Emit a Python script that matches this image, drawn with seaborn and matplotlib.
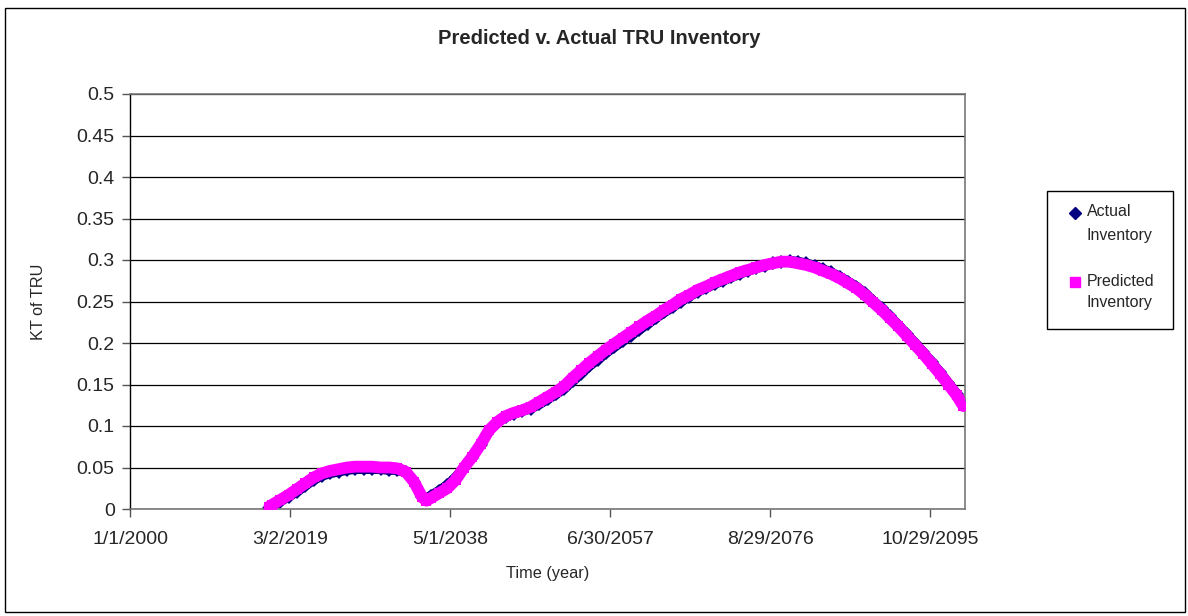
import pandas as pd
import numpy as np
import seaborn as sns
import matplotlib.pyplot as plt
from matplotlib.lines import Line2D
from matplotlib.patches import Rectangle

# values (x in fractional years)
years = [2016.7, 2017, 2018, 2019, 2020, 2021, 2022, 2023, 2024, 2025, 2026, 2027, 2028,
         2029, 2030, 2031, 2032, 2033, 2034, 2035, 2035.5, 2036, 2037, 2038, 2039, 2040,
         2041, 2042, 2043, 2044, 2045, 2046, 2047, 2048, 2049, 2050, 2051, 2052, 2053,
         2054, 2055, 2056, 2057, 2058, 2059, 2060, 2061, 2062, 2063, 2064, 2065, 2066,
         2067, 2068, 2069, 2070, 2071, 2072, 2073, 2074, 2075, 2076, 2077, 2078, 2079,
         2080, 2081, 2082, 2083, 2084, 2085, 2086, 2087, 2088, 2089, 2090, 2091, 2092,
         2093, 2094, 2095, 2096, 2097, 2098, 2099, 2099.8]
predicted = [0.003, 0.005, 0.011, 0.017, 0.024, 0.031, 0.038, 0.043, 0.046, 0.048, 0.050,
             0.051, 0.051, 0.051, 0.050, 0.050, 0.049, 0.045, 0.033, 0.014, 0.010, 0.013,
             0.019, 0.025, 0.035, 0.050, 0.063, 0.078, 0.095, 0.105, 0.112, 0.116, 0.119,
             0.123, 0.129, 0.135, 0.141, 0.148, 0.158, 0.167, 0.176, 0.184, 0.192, 0.199,
             0.206, 0.213, 0.220, 0.227, 0.233, 0.240, 0.246, 0.253, 0.258, 0.264, 0.268,
             0.273, 0.277, 0.281, 0.285, 0.288, 0.291, 0.294, 0.296, 0.298, 0.298, 0.296,
             0.294, 0.291, 0.287, 0.283, 0.278, 0.272, 0.266, 0.258, 0.249, 0.240, 0.230,
             0.220, 0.209, 0.198, 0.187, 0.175, 0.163, 0.150, 0.137, 0.124]
actual = [0.001, 0.003, 0.009, 0.015, 0.021, 0.028, 0.035, 0.040, 0.043, 0.045, 0.047,
          0.048, 0.048, 0.048, 0.048, 0.047, 0.047, 0.044, 0.033, 0.015, 0.012, 0.016,
          0.022, 0.029, 0.038, 0.050, 0.062, 0.077, 0.094, 0.104, 0.111, 0.115, 0.118,
          0.121, 0.126, 0.132, 0.138, 0.145, 0.154, 0.163, 0.172, 0.180, 0.188, 0.195,
          0.202, 0.209, 0.216, 0.223, 0.230, 0.237, 0.243, 0.250, 0.256, 0.262, 0.266,
          0.271, 0.275, 0.279, 0.283, 0.287, 0.290, 0.293, 0.296, 0.298, 0.299, 0.298,
          0.296, 0.293, 0.289, 0.285, 0.280, 0.274, 0.268, 0.260, 0.251, 0.242, 0.232,
          0.222, 0.211, 0.200, 0.189, 0.177, 0.165, 0.152, 0.139, 0.127]
x_ticks = ['2000-01-01', '2019-03-02', '2038-05-01', '2057-06-30', '2076-08-29', '2095-10-29']
y_ticks = [0, 0.05, 0.1, 0.15, 0.2, 0.25, 0.3, 0.35, 0.4, 0.45, 0.5]

start = pd.Timestamp('2000-01-01')
dates = [start + pd.to_timedelta((y - 2000) * 365.25, unit='D') for y in years]
df = pd.DataFrame({'date': dates, 'Actual': actual, 'Predicted': predicted})

sns.set_style("white")
plt.rcParams['font.family'] = ['Liberation Sans', 'DejaVu Sans']

W, H = 1188, 616
fig = plt.figure(figsize=(W / 100, H / 100), dpi=100)
ax = fig.add_axes([130 / W, 107 / H, 835 / W, 415 / H])

for yv in y_ticks:
    ax.axhline(yv, color='black', lw=0.9, zorder=0)

sns.lineplot(data=df, x='date', y='Actual', ax=ax, color='#000080', lw=7,
             marker='D', markersize=7, markeredgewidth=0, zorder=2)
sns.lineplot(data=df, x='date', y='Predicted', ax=ax, color='#FF00FF', lw=8.5,
             marker='s', markersize=7.5, markeredgewidth=0, zorder=3)

ax.set_ylim(0, 0.5)
ax.set_xlim(start, pd.Timestamp('2100-01-01'))
tick_dates = pd.to_datetime(x_ticks)
ax.set_xticks(tick_dates)
ax.set_xticklabels([f"{d.month}/{d.day}/{d.year}" for d in tick_dates], fontsize=14)
ax.set_yticks(y_ticks)
ax.set_yticklabels([f"{v:g}" for v in y_ticks], fontsize=14)
ax.tick_params(axis='both', direction='out', length=6, width=1, color='#555555',
               bottom=True, left=True, pad=5)
ax.tick_params(axis='x', pad=10)

ax.set_xlabel('Time (year)', fontsize=11.7, labelpad=13)
ax.set_ylabel('KT of TRU', fontsize=11.7, labelpad=22)
fig.text(599 / W, 1 - 38 / H, 'Predicted v. Actual TRU Inventory', fontsize=14.5,
         fontweight='bold', ha='center', va='center')

for side in ['top', 'right', 'bottom']:
    ax.spines[side].set_color('#777777')
    ax.spines[side].set_linewidth(1.2)
ax.spines['left'].set_color('black')
ax.spines['left'].set_linewidth(1)

# legend box drawn by hand to match the two-line Excel layout
fig.patches.append(Rectangle((1047 / W, 1 - 329 / H), 126 / W, 138 / H,
                             transform=fig.transFigure, fill=False,
                             edgecolor='black', lw=1))
fig.add_artist(Line2D([1075 / W], [1 - 213 / H], ls='none', marker='D',
                      color='#000080', markersize=6, transform=fig.transFigure))
fig.add_artist(Line2D([1075 / W], [1 - 282 / H], ls='none', marker='s',
                      color='#FF00FF', markersize=7, transform=fig.transFigure))
legend_lines = [('Actual', 212), ('Inventory', 235), ('Predicted', 281), ('Inventory', 303)]
for txt, yp in legend_lines:
    fig.text(1087 / W, 1 - yp / H, txt, fontsize=11.5, ha='left', va='center')

fig.patches.append(Rectangle((5 / W, 4 / H), 1180 / W, 604 / H,
                             transform=fig.transFigure, fill=False,
                             edgecolor='black', lw=1))

fig.savefig('out.png', dpi=100)
